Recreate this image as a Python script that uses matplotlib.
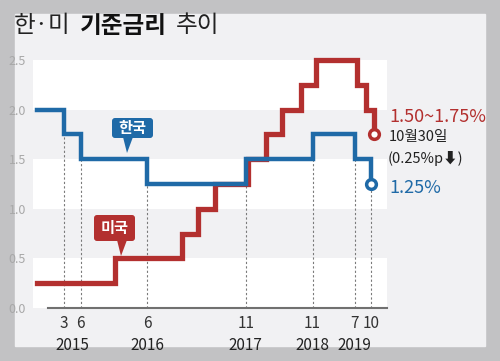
import matplotlib
matplotlib.use("Agg")
import matplotlib.pyplot as plt
import matplotlib.dates as mdates
import matplotlib.transforms as mtransforms
from matplotlib.patches import FancyBboxPatch, Polygon, Rectangle
import numpy as np
from datetime import datetime

plt.rcParams['font.family'] = ['Noto Sans CJK KR', 'DejaVu Sans']

# ---- data ----
kr_dates = ['2014-10-15', '2015-03-12', '2015-06-11', '2016-06-09', '2017-11-30',
            '2018-11-30', '2019-07-18', '2019-10-16']
kr_rates = [2.0, 1.75, 1.5, 1.25, 1.5, 1.75, 1.5, 1.25]

us_dates = ['2014-10-15', '2015-12-17', '2016-12-15', '2017-03-16', '2017-06-15',
            '2017-12-14', '2018-03-22', '2018-06-14', '2018-09-27', '2018-12-20',
            '2019-08-01', '2019-09-19', '2019-10-31']
us_rates = [0.25, 0.5, 0.75, 1.0, 1.25, 1.5, 1.75, 2.0, 2.25, 2.5, 2.25, 2.0, 1.75]

tick_months = ['3', '6', '6', '11', '11', '7', '10']
year_labels = ['2015', '2016', '2017', '2018', '2019']
year_label_dates = ['2015-04-26', '2016-06-09', '2017-11-30', '2018-11-30', '2019-07-18']
y_ticks = [0.0, 0.5, 1.0, 1.5, 2.0, 2.5]

title_parts = ['한·미', '기준금리', '추이']
kr_label, us_label = '한국', '미국'
us_note = '1.50~1.75%'
date_note = '10월30일'
change_note = '(0.25%p\u2b07)'
kr_note = '1.25%'

BLUE = '#1f6aa7'
RED = '#b3302f'
OUTER = '#c2c2c4'
PANEL = '#f1f1f3'

def d(s):
    return mdates.date2num(datetime.strptime(s, '%Y-%m-%d'))

kx = np.array([d(s) for s in kr_dates])
ux = np.array([d(s) for s in us_dates])

fig = plt.figure(figsize=(5, 3.61), dpi=100)
bg = fig.add_axes([0, 0, 1, 1])
bg.set_xlim(0, 500)
bg.set_ylim(361, 0)
bg.axis('off')
bg.add_patch(Rectangle((0, 0), 500, 361, color=OUTER, zorder=0))
bg.add_patch(Rectangle((15, 14), 470, 332, color=PANEL, zorder=1))

# title
bg.text(14, 26, title_parts[0], fontsize=17, va='center', ha='left', color='#222', zorder=5)
bg.text(80, 26, title_parts[1], fontsize=17, va='center', ha='left', color='#111',
        fontweight='bold', zorder=5)
bg.text(176, 26, title_parts[2], fontsize=17, va='center', ha='left', color='#222', zorder=5)

# main axes
ax = fig.add_axes([33 / 500, (361 - 308) / 361, 354 / 500, 248 / 361])
ax.set_facecolor('none')
x0 = d('2015-03-12')
ppd = 0.1829
ax.set_xlim(x0 + (33 - 64) / ppd, x0 + (387 - 64) / ppd)
ax.set_ylim(0, 2.5)
for s in ax.spines.values():
    s.set_visible(False)

for lo in (0.0, 1.0, 2.0):
    ax.axhspan(lo, lo + 0.5, color='white', zorder=0, lw=0)

# axis line
ax.plot([x0 + (48 - 64) / ppd, ax.get_xlim()[1]], [0, 0], color='#707070', lw=1.5,
        clip_on=False, zorder=2)

# dashed guides at Korea change dates
for i in range(1, len(kx)):
    top = min(kr_rates[i - 1], kr_rates[i])
    ax.plot([kx[i], kx[i]], [0, top], color='#7a7a7a', lw=0.8, ls=(0, (2, 2)), zorder=1)

ax.step(ux, us_rates, where='post', color=RED, lw=3.8, zorder=3, clip_on=False,
        solid_joinstyle='miter')
ax.step(kx, kr_rates, where='post', color=BLUE, lw=3.2, zorder=4, clip_on=False,
        solid_joinstyle='miter')
ax.plot(ux[-1], us_rates[-1], 'o', ms=7, mfc='white', mec=RED, mew=2.5, zorder=5, clip_on=False)
ax.plot(kx[-1], kr_rates[-1], 'o', ms=7, mfc='white', mec=BLUE, mew=2.5, zorder=5, clip_on=False)

ax.set_xticks([])
blend = mtransforms.blended_transform_factory(ax.transData, ax.transAxes)
for xv, lab in zip(kx[1:], tick_months):
    ax.text(xv, -(323 - 308) / 248, lab, transform=blend, ha='center', va='center',
            fontsize=11, color='#333')
for lab, ds in zip(year_labels, year_label_dates):
    ax.text(d(ds), -(346 - 308) / 248, lab, transform=blend, ha='center', va='center',
            fontsize=11, color='#222')

ax.set_yticks(y_ticks)
ax.set_yticklabels([f'{v:.1f}' for v in y_ticks], fontsize=9, color='#a8a8a8')
ax.tick_params(axis='y', length=0, pad=5)

# callouts (pixel coords on bg)
def callout(x, y, w, h, tip, color, text):
    bg.add_patch(FancyBboxPatch((x, y), w, h, boxstyle='round,pad=0,rounding_size=3',
                                color=color, zorder=6, lw=0))
    tx, ty = tip
    bg.add_patch(Polygon([(tx - 4, y + h - 1), (tx + 6, y + h - 1), (tx, ty)],
                         closed=True, color=color, zorder=6, lw=0))
    bg.text(x + w / 2, y + h / 2, text, color='white', fontsize=11, fontweight='bold',
            ha='center', va='center', zorder=7)

callout(112, 118, 41, 20, (127, 153), BLUE, kr_label)
callout(94, 215, 41, 26, (121, 256), RED, us_label)

bg.text(389, 117, us_note, color=RED, fontsize=13, ha='left', va='center', zorder=5)
bg.text(389, 137, date_note, color='#222', fontsize=10.5, ha='left', va='center', zorder=5)
bg.text(388, 158, change_note, color='#222', fontsize=10.5, ha='left', va='center', zorder=5,
        family=['Noto Sans CJK KR', 'DejaVu Sans'])
bg.text(389, 188, kr_note, color=BLUE, fontsize=13, ha='left', va='center', zorder=5)

fig.savefig('out.png', dpi=100)
